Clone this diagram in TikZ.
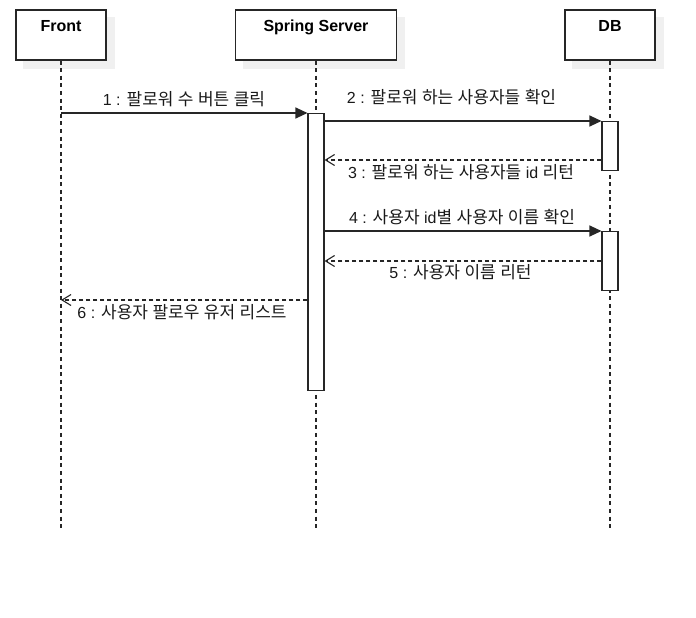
\documentclass[tikz,border=0pt]{standalone}
\usepackage{fontspec}
\setmainfont{Liberation Sans}
\newfontfamily\kr{Noto Sans CJK KR}
% Hangul words set in the CJK face, spaces and Latin in Liberation Sans
\newcommand\K[1]{{\kr\fontsize{17}{19}\selectfont #1}}
\usetikzlibrary{arrows.meta}
\begin{document}
\begin{tikzpicture}[x=1pt,y=-1pt,
  actorbox/.style={draw=black!85, fill=white, line width=1.1pt, minimum height=50pt, inner sep=0pt},
  boxshade/.style={fill=black!6},
  title/.style={font=\bfseries\fontsize{16}{19}\selectfont, anchor=base, inner sep=0pt},
  lifeline/.style={draw=black!85, line width=1.1pt, dash pattern=on 4pt off 3.6pt},
  actbar/.style={draw=black!85, fill=white, line width=1.1pt, minimum width=16pt, inner sep=0pt},
  callmsg/.style={draw=black!85, line width=1.1pt, -{Triangle[length=12pt,width=11pt]}},
  retmsg/.style={draw=black!85, line width=1.1pt, dash pattern=on 4pt off 3pt, -{Straight Barb[length=9pt,width=11pt,line width=1.1pt]}},
  msglabel/.style={font=\fontsize{16}{19}\selectfont, anchor=base, inner sep=0pt, text=black!90}
]
\useasboundingbox (0,0) rectangle (696,618);

% participant boxes with a flat offset shadow
\path (61,35) coordinate (frontc) (316,35) coordinate (springc) (610,35) coordinate (dbc);
\node[actorbox, draw=none, fill=none, minimum width=90pt] (front) at (frontc) {};
\node[actorbox, draw=none, fill=none, minimum width=161pt] (spring) at (springc) {};
\node[actorbox, draw=none, fill=none, minimum width=90pt] (db) at (dbc) {};
\fill[boxshade] ([shift={(8,8)}]front.north west) rectangle ([shift={(8,8)}]front.south east);
\fill[boxshade] ([shift={(8,8)}]spring.north west) rectangle ([shift={(8,8)}]spring.south east);
\fill[boxshade] ([shift={(8,8)}]db.north west) rectangle ([shift={(8,8)}]db.south east);
\node[actorbox, minimum width=90pt] (frontbox) at (frontc) {};
\node[actorbox, minimum width=161pt] (springbox) at (springc) {};
\node[actorbox, minimum width=90pt] (dbbox) at (dbc) {};

\node[title] (frontname) at (61,32) {Front};
\node[title] (springname) at (316,32) {Spring Server};
\node[title] (dbname) at (610,32) {DB};

% lifelines
\coordinate (frontend) at (61,529);
\coordinate (springend) at (316,529);
\coordinate (dbend) at (610,529);
\draw[lifeline] (frontbox.south) -- (frontend);
\draw[lifeline] (springbox.south) -- (springend);
\draw[lifeline] (dbbox.south) -- (dbend);

% activation bars
\node[actbar, minimum height=277pt, anchor=north] (sact) at (316,113) {};
\node[actbar, minimum height=49pt, anchor=north] (dact1) at (610,121) {};
\node[actbar, minimum height=59pt, anchor=north] (dact2) at (610,231) {};

% messages
\draw[callmsg] (frontbox.south |- sact.north) -- (sact.north west);
\draw[callmsg] (sact.east |- dact1.north) -- (dact1.north west);
\coordinate (r1) at (610,160);
\draw[retmsg] (dact1.west |- r1) -- (sact.east |- r1);
\draw[callmsg] (sact.east |- dact2.north) -- (dact2.north west);
\coordinate (r2) at (610,261);
\draw[retmsg] (dact2.west |- r2) -- (sact.east |- r2);
\coordinate (r3) at (316,300);
\draw[retmsg] (sact.west |- r3) -- (frontbox.south |- r3);

% message labels
\node[msglabel] (l1) at (184,106) {1 : \K{팔로워} \K{수} \K{버튼} \K{클릭}};
\node[msglabel] (l2) at (451.5,103) {2 : \K{팔로워} \K{하는} \K{사용자들} \K{확인}};
\node[msglabel] (l3) at (461,178) {3 : \K{팔로워} \K{하는} \K{사용자들} id \K{리턴}};
\node[msglabel] (l4) at (462,223) {4 : \K{사용자} id\K{별} \K{사용자} \K{이름} \K{확인}};
\node[msglabel] (l5) at (460.5,278) {5 : \K{사용자} \K{이름} \K{리턴}};
\node[msglabel] (l6) at (182,318) {6 : \K{사용자} \K{팔로우} \K{유저} \K{리스트}};
\end{tikzpicture}
\end{document}
